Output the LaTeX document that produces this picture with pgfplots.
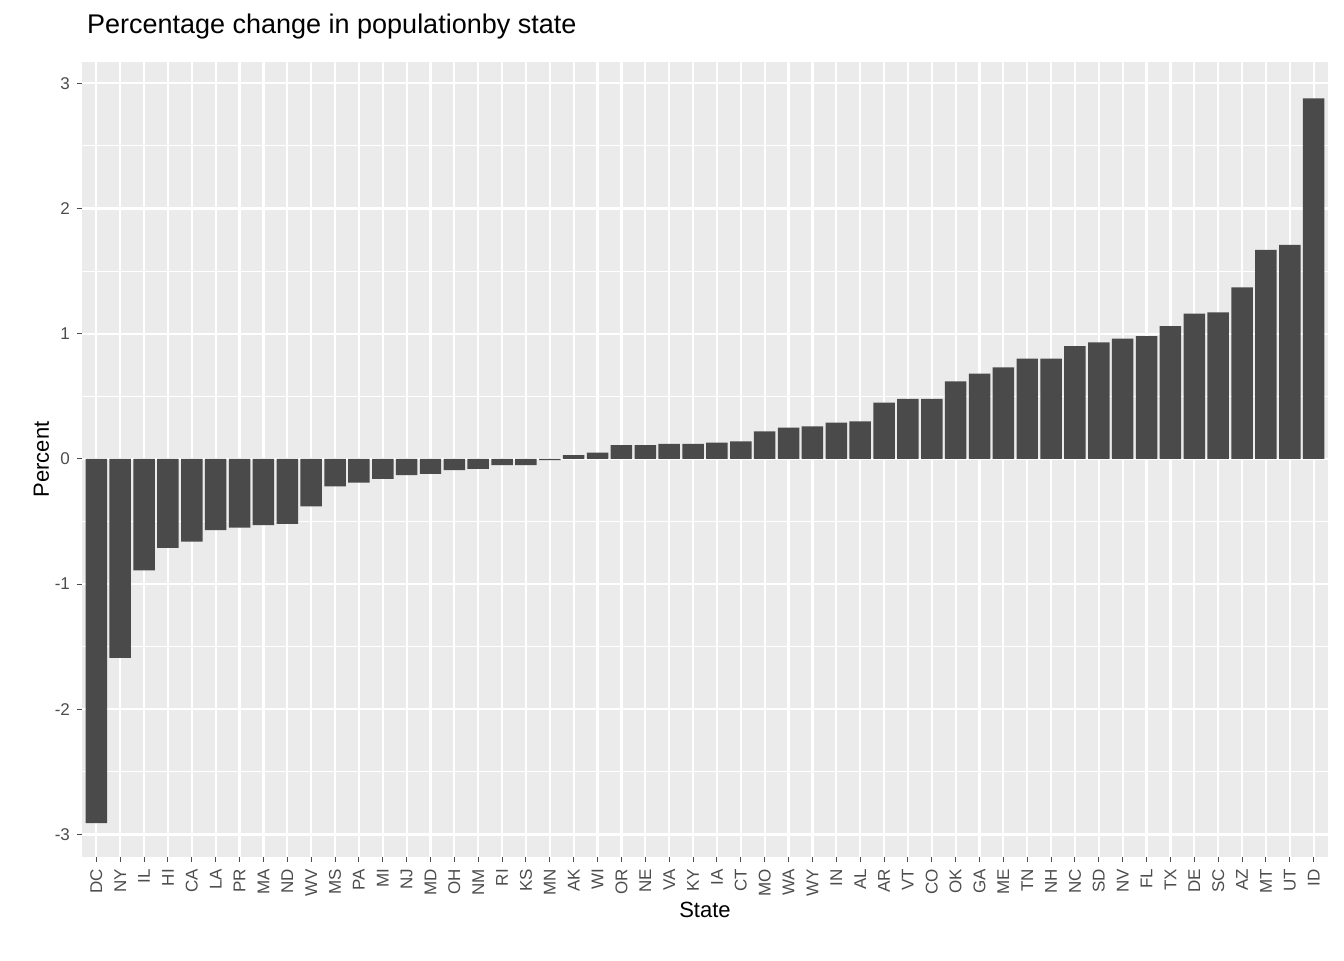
\documentclass[border=0pt]{standalone}
\usepackage{pgfplots}
\pgfplotsset{compat=1.18}
\usepackage{fontspec}
\setmainfont{Liberation Sans}
\definecolor{panel}{HTML}{EBEBEB}
\definecolor{barc}{HTML}{4A4A4A}
\begin{document}
\begin{tikzpicture}
\useasboundingbox (0pt,0pt) rectangle (672pt,480pt);
\begin{axis}[at={(41pt,51.5pt)},anchor=south west,
 scale only axis, width=623pt, height=397.5pt,
 xmin=-0.6, xmax=51.6, ymin=-3.18, ymax=3.17,
 axis background/.style={fill=panel},
 axis line style={draw=none},
 grid=both, major grid style={white,line width=1.1pt},
 minor grid style={white,line width=0.5pt},
 minor ytick={-2.5,-1.5,-0.5,0.5,1.5,2.5},
 ytick={-3,...,3},
 xtick={0,...,51},
 xticklabels={DC,NY,IL,HI,CA,LA,PR,MA,ND,WV,MS,PA,MI,NJ,MD,OH,NM,RI,KS,MN,AK,WI,OR,NE,VA,KY,IA,CT,MO,WA,WY,IN,AL,AR,VT,CO,OK,GA,ME,TN,NH,NC,SD,NV,FL,TX,DE,SC,AZ,MT,UT,ID},
 x tick label style={rotate=90,anchor=east,font=\fontsize{8.5}{9}\selectfont,text=black!70},
 y tick label style={font=\fontsize{8.5}{9}\selectfont,text=black!70},
 /pgf/number format/assume math mode=true,
 tick align=outside, xtick pos=left, ytick pos=left,
 major tick length=2.5pt, minor tick length=0pt,
 tick style={black!70,line width=0.5pt},
 xlabel={State}, ylabel={Percent},
 label style={font=\fontsize{11}{12}\selectfont},
 xlabel style={yshift=4pt}, ylabel style={yshift=-4pt},
 title={Percentage change in populationby state},
 title style={font=\fontsize{13.5}{14}\selectfont,anchor=south west,at={(0,1)},xshift=-1pt,yshift=2pt},
 ybar, bar width=0.9, bar shift=0pt,
]
\addplot[fill=barc,draw=none] coordinates {
(0,-2.91)(1,-1.59)(2,-0.89)(3,-0.71)(4,-0.66)(5,-0.57)(6,-0.55)(7,-0.53)(8,-0.52)(9,-0.38)
(10,-0.22)(11,-0.19)(12,-0.16)(13,-0.13)(14,-0.12)(15,-0.09)(16,-0.08)(17,-0.05)(18,-0.05)(19,-0.01)
(20,0.03)(21,0.05)(22,0.11)(23,0.11)(24,0.12)(25,0.12)(26,0.13)(27,0.14)(28,0.22)(29,0.25)
(30,0.26)(31,0.29)(32,0.30)(33,0.45)(34,0.48)(35,0.48)(36,0.62)(37,0.68)(38,0.73)(39,0.80)
(40,0.80)(41,0.90)(42,0.93)(43,0.96)(44,0.98)(45,1.06)(46,1.16)(47,1.17)(48,1.37)(49,1.67)
(50,1.71)(51,2.88)};
\end{axis}
\end{tikzpicture}
\end{document}
